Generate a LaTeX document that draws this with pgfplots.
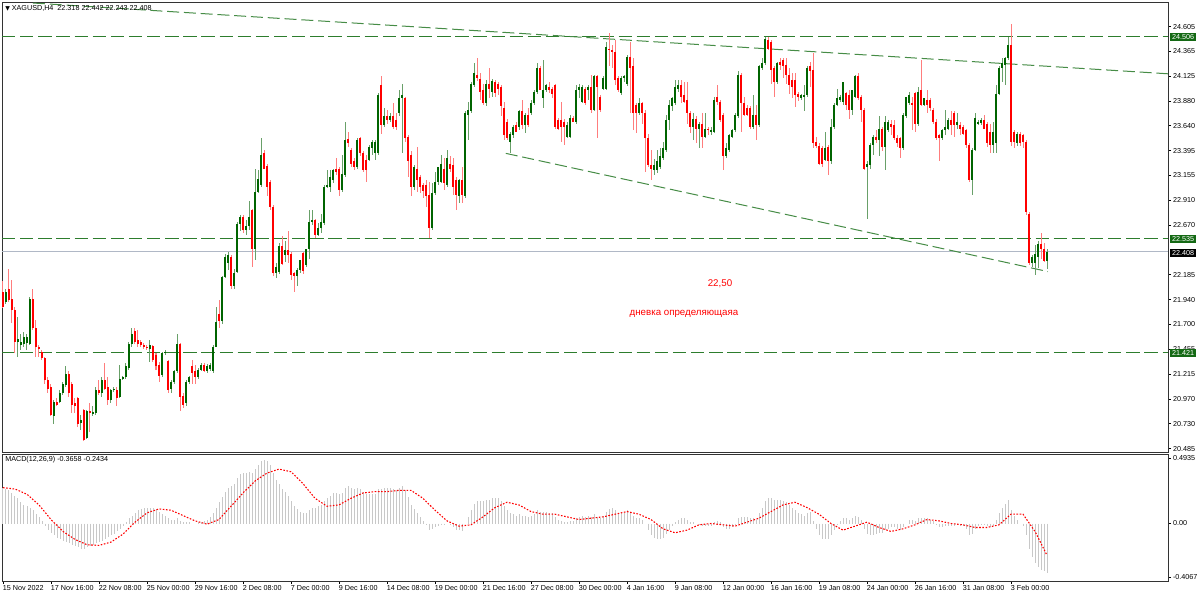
\documentclass[border=0pt]{standalone}
\usepackage{pgfplots}
\pgfplotsset{compat=1.18}
\usepackage{pgfplotstable}
\usetikzlibrary{calc}
\usepackage{fontspec}
\setmainfont{Liberation Sans}
\newfontfamily\symfont{DejaVu Sans}

\definecolor{bullbody}{RGB}{0,100,0}
\definecolor{bullwick}{RGB}{105,160,105}
\definecolor{bearbody}{RGB}{255,0,0}
\definecolor{bearwick}{RGB}{255,125,125}
\definecolor{lvl}{RGB}{45,125,45}
\definecolor{trend}{RGB}{70,140,70}
\definecolor{boxgreen}{RGB}{20,105,20}
\definecolor{bidline}{RGB}{176,184,198}
\definecolor{histgray}{RGB}{200,200,200}

\newcommand\mtfont{\fontsize{5.4}{6.4}\selectfont}
\pgfdeclarelayer{bg}
\pgfsetlayers{bg,main}

% XAGUSD H4 candles: bar index, open, high, low, close
\pgfplotstableread{
i o h l c
0 22.02 22.12 21.86 21.87
1 21.92 22.04 21.90 22.02
2 22.04 22.24 21.92 21.94
3 21.95 22.13 21.71 21.84
4 21.84 21.87 21.42 21.53
5 21.53 21.77 21.38 21.56
6 21.50 21.61 21.45 21.53
7 21.51 21.62 21.48 21.58
8 21.52 21.61 21.45 21.58
9 21.51 21.97 21.50 21.95
10 21.95 22.04 21.64 21.66
11 21.66 21.74 21.38 21.48
12 21.48 21.50 21.38 21.46
13 21.43 21.45 21.35 21.37
14 21.37 21.38 21.12 21.16
15 21.16 21.19 21.03 21.07
16 21.09 21.12 20.80 20.81
17 20.80 20.96 20.73 20.94
18 20.94 20.98 20.90 20.91
19 20.94 21.06 20.93 21.03
20 21.03 21.14 21.01 21.12
21 21.11 21.29 21.09 21.21
22 21.21 21.24 20.99 21.03
23 21.12 21.14 20.83 20.91
24 20.93 20.98 20.83 20.90
25 20.98 20.99 20.70 20.73
26 20.74 20.81 20.67 20.77
27 20.86 20.87 20.56 20.57
28 20.59 20.86 20.58 20.85
29 20.85 20.93 20.65 20.83
30 20.82 20.90 20.80 20.84
31 20.83 21.09 20.81 21.06
32 21.06 21.16 21.01 21.03
33 21.03 21.19 20.99 21.16
34 21.16 21.32 21.06 21.07
35 21.09 21.19 20.91 20.96
36 20.96 21.07 20.93 21.06
37 21.06 21.09 21.04 21.07
38 21.06 21.09 20.90 20.98
39 20.99 21.30 20.98 21.17
40 21.17 21.20 21.16 21.19
41 21.19 21.32 21.17 21.29
42 21.27 21.53 21.25 21.51
43 21.51 21.66 21.48 21.61
44 21.63 21.66 21.51 21.53
45 21.55 21.64 21.48 21.51
46 21.53 21.55 21.48 21.50
47 21.50 21.52 21.46 21.48
48 21.48 21.50 21.45 21.47
49 21.46 21.55 21.33 21.50
50 21.49 21.50 21.33 21.35
51 21.40 21.42 21.25 21.29
52 21.30 21.33 21.14 21.20
53 21.20 21.43 21.19 21.42
54 21.42 21.45 21.40 21.43
55 21.34 21.35 21.03 21.06
56 21.07 21.16 21.03 21.14
57 21.14 21.25 21.12 21.24
58 21.24 21.61 21.22 21.51
59 21.51 21.52 20.85 20.99
60 21.00 21.03 20.88 20.91
61 20.93 21.16 20.90 21.14
62 21.14 21.20 21.12 21.19
63 21.29 21.35 21.12 21.22
64 21.24 21.30 21.12 21.19
65 21.19 21.27 21.17 21.25
66 21.25 21.32 21.24 21.30
67 21.30 21.32 21.23 21.24
68 21.24 21.31 21.22 21.29
69 21.26 21.32 21.24 21.30
70 21.24 21.50 21.22 21.48
71 21.48 21.87 21.48 21.72
72 21.80 21.94 21.66 21.73
73 21.73 22.17 21.70 22.16
74 22.16 22.39 22.15 22.36
75 22.30 22.41 22.23 22.38
76 22.36 22.38 22.04 22.07
77 22.07 22.24 22.04 22.20
78 22.21 22.70 22.20 22.68
79 22.68 22.77 22.61 22.75
80 22.75 22.77 22.59 22.62
81 22.62 22.72 22.57 22.66
82 22.66 22.90 22.62 22.75
83 22.82 22.83 22.26 22.44
84 22.44 23.22 22.33 22.99
85 22.99 23.21 22.98 23.12
86 23.06 23.52 23.04 23.35
87 23.37 23.40 23.22 23.22
88 23.25 23.27 22.95 23.04
89 23.09 23.11 22.82 22.85
90 22.85 22.86 22.17 22.20
91 22.20 22.30 22.15 22.26
92 22.21 22.49 22.19 22.46
93 22.46 22.56 22.28 22.29
94 22.38 22.51 22.31 22.43
95 22.43 22.61 22.30 22.38
96 22.39 22.41 22.13 22.18
97 22.20 22.21 22.02 22.17
98 22.17 22.25 22.07 22.23
99 22.23 22.33 22.20 22.33
100 22.40 22.41 22.19 22.22
101 22.28 22.44 22.26 22.44
102 22.44 22.82 22.34 22.70
103 22.70 22.82 22.67 22.72
104 22.72 22.73 22.54 22.57
105 22.57 22.69 22.56 22.64
106 22.64 22.78 22.59 22.70
107 22.69 23.06 22.67 23.04
108 23.04 23.21 23.03 23.06
109 23.04 23.21 22.99 23.14
110 23.11 23.22 23.08 23.21
111 23.22 23.32 23.16 23.19
112 23.22 23.24 22.95 23.01
113 23.01 23.35 22.99 23.17
114 23.16 23.68 23.14 23.50
115 23.51 23.58 23.43 23.47
116 23.40 23.42 23.24 23.27
117 23.29 23.32 23.21 23.24
118 23.24 23.52 23.22 23.50
119 23.52 23.53 23.34 23.37
120 23.37 23.39 23.19 23.21
121 23.30 23.35 23.09 23.21
122 23.30 23.45 23.29 23.43
123 23.42 23.50 23.35 23.48
124 23.37 23.50 23.30 23.48
125 23.37 23.96 23.35 23.94
126 24.04 24.12 23.56 23.65
127 23.65 23.81 23.63 23.73
128 23.73 23.79 23.66 23.69
129 23.69 23.76 23.68 23.73
130 23.73 23.86 23.61 23.63
131 23.69 23.76 23.60 23.63
132 23.76 23.99 23.73 23.91
133 23.91 24.05 23.37 23.94
134 23.91 23.92 23.48 23.52
135 23.53 23.55 23.14 23.29
136 23.35 23.39 22.95 23.04
137 23.04 23.26 23.01 23.24
138 23.22 23.43 22.99 23.11
139 23.14 23.16 22.98 23.04
140 23.06 23.08 22.93 23.00
141 23.06 23.11 22.85 22.95
142 22.96 23.09 22.54 22.64
143 22.64 23.08 22.62 22.98
144 22.98 23.19 22.96 23.09
145 23.09 23.24 23.06 23.24
146 23.09 23.35 23.08 23.27
147 23.22 23.32 23.01 23.08
148 23.06 23.40 23.04 23.32
149 23.27 23.34 23.19 23.22
150 23.26 23.32 22.96 23.04
151 23.11 23.14 22.82 22.96
152 22.95 23.12 22.88 23.11
153 23.11 23.24 22.88 22.96
154 22.95 23.78 22.93 23.76
155 23.74 23.87 23.50 23.79
156 23.78 24.07 23.76 24.05
157 24.04 24.25 24.02 24.15
158 24.13 24.30 24.08 24.10
159 24.10 24.15 23.89 23.97
160 23.99 24.05 23.84 23.86
161 23.86 24.09 23.83 24.05
162 24.05 24.20 23.91 24.00
163 23.97 24.10 23.92 24.08
164 24.07 24.09 23.92 23.96
165 24.05 24.07 23.94 24.00
166 24.02 24.04 23.73 23.83
167 23.81 23.87 23.50 23.55
168 23.68 23.70 23.50 23.52
169 23.48 23.58 23.37 23.56
170 23.55 23.65 23.52 23.63
171 23.65 23.68 23.58 23.58
172 23.63 23.79 23.60 23.78
173 23.78 23.89 23.61 23.65
174 23.65 23.76 23.57 23.74
175 23.74 23.81 23.63 23.65
176 23.76 23.89 23.74 23.86
177 23.86 23.99 23.84 23.97
178 23.97 24.25 23.95 24.20
179 24.20 24.22 23.99 23.99
180 23.91 24.28 23.81 23.99
181 23.99 24.05 23.97 24.04
182 24.02 24.07 23.96 23.99
183 24.00 24.02 23.91 23.95
184 24.04 24.05 23.61 23.63
185 23.69 23.71 23.60 23.61
186 23.69 23.87 23.48 23.63
187 23.68 23.70 23.45 23.63
188 23.53 23.68 23.52 23.65
189 23.53 23.74 23.52 23.71
190 23.71 23.73 23.68 23.68
191 23.68 24.04 23.66 23.99
192 23.99 24.05 23.91 24.02
193 23.87 24.04 23.86 24.02
194 24.00 24.02 23.84 23.86
195 23.99 24.04 23.89 24.02
196 24.02 24.13 23.76 23.79
197 23.79 24.13 23.78 24.12
198 24.12 24.13 23.52 24.02
199 23.92 23.94 23.77 23.79
200 24.00 24.12 23.99 24.10
201 24.00 24.46 23.99 24.41
202 24.39 24.54 24.22 24.38
203 24.38 24.43 24.20 24.36
204 24.36 24.48 24.04 24.09
205 24.10 24.12 23.97 23.99
206 23.96 24.12 23.94 24.10
207 24.10 24.13 24.07 24.12
208 24.05 24.33 24.03 24.31
209 24.31 24.46 23.76 24.20
210 24.22 24.30 23.60 23.76
211 23.84 23.86 23.57 23.76
212 23.76 23.91 23.74 23.86
213 23.86 23.87 23.66 23.76
214 23.76 23.79 23.19 23.52
215 23.52 23.56 23.24 23.26
216 23.26 23.40 23.11 23.22
217 23.21 23.31 23.16 23.26
218 23.21 23.40 23.18 23.29
219 23.24 23.42 23.22 23.34
220 23.32 23.48 23.30 23.42
221 23.40 23.74 23.38 23.69
222 23.69 23.89 23.60 23.84
223 23.83 23.92 23.78 23.91
224 23.86 24.09 23.84 24.02
225 24.00 24.09 23.97 24.04
226 24.04 24.09 23.86 23.92
227 23.94 24.07 23.86 23.87
228 23.89 24.07 23.66 23.76
229 23.76 23.78 23.57 23.63
230 23.63 23.76 23.50 23.70
231 23.70 23.73 23.47 23.61
232 23.61 23.68 23.42 23.66
233 23.66 23.76 23.42 23.53
234 23.53 23.76 23.52 23.61
235 23.61 23.63 23.55 23.60
236 23.58 23.63 23.55 23.60
237 23.58 23.92 23.57 23.89
238 23.92 24.04 23.84 23.87
239 23.87 23.89 23.68 23.69
240 23.74 23.76 23.21 23.34
241 23.34 23.47 23.32 23.42
242 23.40 23.56 23.38 23.55
243 23.53 23.61 23.52 23.60
244 23.60 23.76 23.58 23.74
245 23.73 24.17 23.71 24.13
246 24.13 24.15 23.58 23.86
247 23.86 23.92 23.73 23.74
248 23.81 23.84 23.73 23.74
249 23.81 23.83 23.61 23.63
250 23.63 23.94 23.61 23.74
251 23.74 23.84 23.50 23.65
252 23.65 24.23 23.63 24.22
253 24.20 24.30 24.18 24.25
254 24.25 24.51 24.23 24.49
255 24.48 24.51 24.38 24.39
256 24.46 24.48 24.05 24.18
257 24.20 24.22 23.92 24.07
258 24.07 24.26 24.05 24.25
259 24.26 24.30 24.18 24.23
260 24.28 24.30 24.10 24.22
261 24.23 24.30 24.05 24.13
262 24.13 24.20 23.95 24.04
263 24.09 24.15 23.91 24.02
264 24.09 24.15 23.82 23.94
265 23.95 23.97 23.88 23.92
266 23.91 23.95 23.89 23.94
267 23.92 24.04 23.78 23.94
268 23.94 24.22 23.92 24.20
269 24.22 24.26 24.02 24.17
270 24.18 24.35 23.42 23.47
271 23.48 23.53 23.42 23.44
272 23.44 23.47 23.26 23.27
273 23.42 23.44 23.24 23.27
274 23.30 23.58 23.29 23.42
275 23.43 23.45 23.16 23.29
276 23.29 23.70 23.27 23.63
277 23.63 23.86 23.61 23.84
278 23.84 24.00 23.83 23.91
279 23.89 23.94 23.87 23.92
280 23.87 24.07 23.84 24.07
281 23.96 23.97 23.79 23.84
282 23.94 23.99 23.70 23.79
283 23.79 23.99 23.74 23.99
284 23.92 24.13 23.91 24.12
285 24.12 24.15 23.89 23.91
286 23.92 23.94 23.68 23.79
287 23.79 23.81 23.21 23.22
288 23.24 23.29 22.73 23.27
289 23.26 23.47 23.22 23.45
290 23.45 23.55 23.35 23.53
291 23.53 23.60 23.47 23.50
292 23.50 23.73 23.34 23.61
293 23.61 23.63 23.39 23.43
294 23.43 23.73 23.21 23.68
295 23.60 23.69 23.58 23.68
296 23.66 23.69 23.55 23.63
297 23.65 23.69 23.50 23.52
298 23.52 23.55 23.43 23.47
299 23.52 23.53 23.32 23.42
300 23.42 23.76 23.40 23.74
301 23.73 23.92 23.71 23.92
302 23.86 23.97 23.84 23.94
303 23.86 23.92 23.60 23.84
304 23.96 23.97 23.58 23.66
305 23.66 24.02 23.64 23.97
306 23.99 24.28 23.83 23.84
307 23.84 23.89 23.83 23.91
308 23.89 23.99 23.76 23.84
309 23.89 23.91 23.78 23.81
310 23.79 23.81 23.66 23.68
311 23.68 23.70 23.50 23.52
312 23.55 23.56 23.29 23.52
313 23.52 23.61 23.50 23.60
314 23.60 23.79 23.55 23.63
315 23.61 23.71 23.60 23.69
316 23.69 23.78 23.55 23.65
317 23.76 23.78 23.53 23.65
318 23.65 23.76 23.61 23.68
319 23.65 23.68 23.55 23.61
320 23.63 23.65 23.55 23.56
321 23.60 23.61 23.42 23.45
322 23.45 23.47 23.09 23.11
323 23.11 23.42 22.96 23.40
324 23.40 23.76 23.39 23.71
325 23.66 23.69 23.65 23.68
326 23.67 23.71 23.65 23.69
327 23.69 23.74 23.61 23.61
328 23.66 23.68 23.43 23.47
329 23.58 23.66 23.37 23.45
330 23.45 23.68 23.37 23.58
331 23.47 24.04 23.37 23.95
332 23.95 24.22 23.94 24.20
333 24.20 24.30 24.07 24.25
334 24.23 24.31 24.04 24.30
335 24.30 24.51 24.28 24.43
336 24.43 24.63 23.44 23.48
337 23.58 23.60 23.42 23.48
338 23.47 23.58 23.44 23.56
339 23.56 23.58 23.44 23.47
340 23.55 23.56 23.42 23.48
341 23.48 23.50 22.77 22.80
342 22.78 22.80 22.28 22.30
343 22.30 22.38 22.26 22.36
344 22.30 22.47 22.18 22.39
345 22.36 22.51 22.25 22.48
346 22.48 22.59 22.34 22.44
347 22.44 22.49 22.31 22.32
348 22.32 22.44 22.24 22.41
}\candles

\pgfplotsset{
  wick/.style={forget plot, draw=none, mark=none,
    error bars/y dir=both, error bars/y explicit, error bars/error mark=none,
    error bars/error bar style={line width=0.75pt, draw=#1}},
  body/.style={forget plot, draw=none, mark=none,
    error bars/y dir=both, error bars/y explicit, error bars/error mark=none,
    error bars/error bar style={line width=1.7pt, draw=#1}},
}

\begin{document}
\begin{tikzpicture}[x=0.75pt,y=0.75pt]

% ---------- price panel ----------
\begin{axis}[
  name=main,
  scale only axis, width=874.5pt, height=337.5pt,
  xmin=-0.333, xmax=388.333, ymin=20.453, ymax=24.847,
  axis line style={black!80, line width=0.6pt},
  xtick=\empty,
  ytick={20.485,20.730,20.970,21.215,21.455,21.700,21.940,22.185,22.670,22.910,23.155,23.395,23.640,23.880,24.125,24.365,24.605},
  yticklabels={20.485,20.730,20.970,21.215,21.455,21.700,21.940,22.185,22.670,22.910,23.155,23.395,23.640,23.880,24.125,24.365,24.605},
  ytick pos=right, yticklabel pos=right,
  tick align=outside, major tick length=2.25pt,
  tick style={black, line width=0.5pt},
  yticklabel style={font=\mtfont, inner sep=0.5pt, xshift=0.8pt},
]
% levels
\addplot[lvl, line width=0.8pt, dash pattern=on 10pt off 3.6pt] coordinates {(-0.333,24.506) (388.333,24.506)};
\addplot[lvl, line width=0.8pt, dash pattern=on 10pt off 3.6pt] coordinates {(-0.333,22.535) (388.333,22.535)};
\addplot[lvl, line width=0.8pt, dash pattern=on 10pt off 3.6pt] coordinates {(-0.333,21.421) (388.333,21.421)};
\addplot[bidline, line width=1pt] coordinates {(-0.333,22.408) (388.333,22.408)};
% trend lines
\addplot[trend, line width=0.75pt, dash pattern=on 9pt off 3.6pt] coordinates {(10,24.837) (388.333,24.146)};
\addplot[trend, line width=0.75pt, dash pattern=on 9pt off 3.6pt] coordinates {(167.6,23.369) (348.3,22.215)};

% wicks
\addplot[wick=bullwick, restrict expr to domain={\thisrow{c}-\thisrow{o}}{0:100}]
  table[x=i, y expr={(\thisrow{h}+\thisrow{l})/2}, y error expr={(\thisrow{h}-\thisrow{l})/2}] {\candles};
\addplot[wick=bearwick, restrict expr to domain={\thisrow{c}-\thisrow{o}}{-100:-0.0001}]
  table[x=i, y expr={(\thisrow{h}+\thisrow{l})/2}, y error expr={(\thisrow{h}-\thisrow{l})/2}] {\candles};
% bodies
\addplot[body=bullbody, restrict expr to domain={\thisrow{c}-\thisrow{o}}{0:100}]
  table[x=i, y expr={(\thisrow{o}+\thisrow{c})/2}, y error expr={max(abs(\thisrow{c}-\thisrow{o})/2,0.005)}] {\candles};
\addplot[body=bearbody, restrict expr to domain={\thisrow{c}-\thisrow{o}}{-100:-0.0001}]
  table[x=i, y expr={(\thisrow{o}+\thisrow{c})/2}, y error expr={max(abs(\thisrow{c}-\thisrow{o})/2,0.005)}] {\candles};

\coordinate (mSW) at (rel axis cs:0,0);
\end{axis}

% ---------- MACD panel: its zero line at bar 0 lies 71.5 px below the price panel ----------
\begin{axis}[
  at={($(mSW)+(0.75pt,-53.625pt)$)}, anchor=origin,
  scale only axis, width=874.5pt, height=95.25pt,
  xmin=-0.333, xmax=388.333, ymin=-0.4333, ymax=0.5237,
  axis line style={black!80, line width=0.6pt},
  xtick={0,16,...,336},
  xticklabels={15 Nov 2022,17 Nov 16:00,22 Nov 08:00,25 Nov 00:00,29 Nov 16:00,2 Dec 08:00,7 Dec 00:00,9 Dec 16:00,14 Dec 08:00,19 Dec 00:00,21 Dec 16:00,27 Dec 08:00,30 Dec 00:00,4 Jan 16:00,9 Jan 08:00,12 Jan 00:00,16 Jan 16:00,19 Jan 08:00,24 Jan 00:00,26 Jan 16:00,31 Jan 08:00,3 Feb 00:00},
  xtick pos=bottom,
  xticklabel style={font=\mtfont, anchor=north west, inner sep=0.5pt, xshift=-0.8pt, yshift=-0.5pt},
  ytick={-0.4067,0,0.4935},
  yticklabels={-0.4067,0.00,0.4935},
  ytick pos=right, yticklabel pos=right,
  tick align=outside, major tick length=2.25pt,
  tick style={black, line width=0.5pt},
  yticklabel style={font=\mtfont, inner sep=0.5pt, xshift=0.8pt},
]
% MACD main as histogram
\addplot[ycomb, histgray, line width=0.75pt, mark=none] coordinates {
(0,0.27) (1,0.26) (2,0.25) (3,0.23) (4,0.21) (5,0.19) (6,0.16) (7,0.14) (8,0.13) (9,0.12)
(10,0.10) (11,0.07) (12,0.05) (13,0.02) (14,-0.02) (15,-0.05) (16,-0.07) (17,-0.09) (18,-0.11) (19,-0.12)
(20,-0.13) (21,-0.14) (22,-0.15) (23,-0.16) (24,-0.17) (25,-0.18) (26,-0.19) (27,-0.19) (28,-0.18) (29,-0.17)
(30,-0.16) (31,-0.15) (32,-0.14) (33,-0.13) (34,-0.12) (35,-0.10) (36,-0.09) (37,-0.08) (38,-0.06) (39,-0.04)
(40,-0.02) (41,0.01) (42,0.04) (43,0.06) (44,0.08) (45,0.10) (46,0.11) (47,0.12) (48,0.12) (49,0.12)
(50,0.12) (51,0.11) (52,0.09) (53,0.07) (54,0.06) (55,0.04) (56,0.03) (57,0.03) (58,0.04) (59,0.02)
(60,0.01) (61,0.01) (62,0.01) (63,0.00) (64,0.00) (65,0.01) (66,0.01) (67,0.02) (68,0.03) (69,0.05)
(70,0.08) (71,0.12) (72,0.16) (73,0.20) (74,0.24) (75,0.27) (76,0.28) (77,0.30) (78,0.34) (79,0.37)
(80,0.38) (81,0.38) (82,0.39) (83,0.38) (84,0.41) (85,0.44) (86,0.47) (87,0.48) (88,0.47) (89,0.44)
(90,0.38) (91,0.33) (92,0.30) (93,0.26) (94,0.24) (95,0.21) (96,0.17) (97,0.13) (98,0.11) (99,0.09)
(100,0.08) (101,0.08) (102,0.10) (103,0.12) (104,0.12) (105,0.13) (106,0.14) (107,0.17) (108,0.19) (109,0.21)
(110,0.23) (111,0.23) (112,0.22) (113,0.23) (114,0.27) (115,0.28) (116,0.27) (117,0.26) (118,0.27) (119,0.26)
(120,0.24) (121,0.22) (122,0.22) (123,0.22) (124,0.22) (125,0.26) (126,0.26) (127,0.27) (128,0.27) (129,0.27)
(130,0.26) (131,0.25) (132,0.27) (133,0.28) (134,0.25) (135,0.20) (136,0.14) (137,0.11) (138,0.08) (139,0.05)
(140,0.02) (141,-0.01) (142,-0.05) (143,-0.04) (144,-0.03) (145,-0.02) (146,-0.01) (147,-0.01) (148,0.00) (149,-0.01)
(150,-0.03) (151,-0.05) (152,-0.05) (153,-0.06) (154,0.00) (155,0.05) (156,0.10) (157,0.15) (158,0.17) (159,0.17)
(160,0.17) (161,0.18) (162,0.18) (163,0.19) (164,0.19) (165,0.19) (166,0.17) (167,0.13) (168,0.10) (169,0.08)
(170,0.07) (171,0.06) (172,0.07) (173,0.06) (174,0.06) (175,0.05) (176,0.06) (177,0.07) (178,0.10) (179,0.09)
(180,0.09) (181,0.09) (182,0.08) (183,0.08) (184,0.05) (185,0.03) (186,0.02) (187,0.01) (188,0.01) (189,0.02)
(190,0.02) (191,0.04) (192,0.05) (193,0.06) (194,0.05) (195,0.06) (196,0.05) (197,0.07) (198,0.05) (199,0.04)
(200,0.06) (201,0.09) (202,0.11) (203,0.12) (204,0.10) (205,0.08) (206,0.08) (207,0.08) (208,0.10) (209,0.09)
(210,0.06) (211,0.04) (212,0.04) (213,0.03) (214,0.00) (215,-0.05) (216,-0.09) (217,-0.11) (218,-0.12) (219,-0.12)
(220,-0.11) (221,-0.08) (222,-0.05) (223,-0.02) (224,0.01) (225,0.03) (226,0.04) (227,0.04) (228,0.03) (229,0.01)
(230,0.01) (231,0.00) (232,-0.01) (233,-0.02) (234,-0.02) (235,-0.02) (236,-0.02) (237,0.01) (238,0.02) (239,0.01)
(240,-0.03) (241,-0.04) (242,-0.04) (243,-0.03) (244,-0.01) (245,0.04) (246,0.05) (247,0.05) (248,0.05) (249,0.04)
(250,0.04) (251,0.03) (252,0.08) (253,0.12) (254,0.17) (255,0.19) (256,0.19) (257,0.18) (258,0.18) (259,0.18)
(260,0.17) (261,0.16) (262,0.14) (263,0.12) (264,0.10) (265,0.08) (266,0.07) (267,0.06) (268,0.08) (269,0.09)
(270,0.02) (271,-0.04) (272,-0.09) (273,-0.12) (274,-0.12) (275,-0.12) (276,-0.09) (277,-0.05) (278,-0.01) (279,0.02)
(280,0.04) (281,0.04) (282,0.03) (283,0.04) (284,0.06) (285,0.05) (286,0.03) (287,-0.04) (288,-0.08) (289,-0.09)
(290,-0.09) (291,-0.08) (292,-0.07) (293,-0.07) (294,-0.05) (295,-0.04) (296,-0.03) (297,-0.03) (298,-0.04) (299,-0.05)
(300,-0.03) (301,0.00) (302,0.03) (303,0.03) (304,0.02) (305,0.04) (306,0.04) (307,0.04) (308,0.04) (309,0.03)
(310,0.02) (311,-0.01) (312,-0.03) (313,-0.03) (314,-0.02) (315,-0.02) (316,-0.02) (317,-0.02) (318,-0.01) (319,-0.02)
(320,-0.02) (321,-0.04) (322,-0.09) (323,-0.08) (324,-0.04) (325,-0.02) (326,-0.01) (327,-0.01) (328,-0.02) (329,-0.03)
(330,-0.02) (331,0.03) (332,0.08) (333,0.12) (334,0.15) (335,0.18) (336,0.10) (337,0.06) (338,0.03) (339,0.00)
(340,-0.02) (341,-0.09) (342,-0.19) (343,-0.25) (344,-0.30) (345,-0.33) (346,-0.35) (347,-0.36) (348,-0.37)
};
% signal line
\addplot[red, line width=0.8pt, dash pattern=on 1.2pt off 1.2pt] coordinates {
(0,0.27) (4,0.26) (8,0.22) (12,0.14) (16,0.03) (20,-0.06) (24,-0.12) (28,-0.16) (32,-0.165) (36,-0.14)
(40,-0.08) (44,0.01) (48,0.08) (52,0.11) (56,0.10) (60,0.06) (64,0.02) (68,-0.005) (72,0.03) (76,0.13)
(80,0.23) (84,0.32) (88,0.38) (92,0.41) (96,0.39) (100,0.30) (104,0.19) (108,0.13) (112,0.14) (116,0.19)
(120,0.23) (124,0.24) (128,0.24) (132,0.25) (136,0.25) (140,0.19) (144,0.10) (148,0.02) (152,-0.02) (156,-0.01)
(160,0.05) (164,0.12) (168,0.16) (172,0.14) (176,0.09) (180,0.07) (184,0.07) (188,0.05) (192,0.03) (196,0.04)
(200,0.05) (204,0.07) (208,0.09) (212,0.07) (216,0.03) (220,-0.04) (224,-0.07) (228,-0.05) (232,-0.01) (236,0.00)
(240,-0.01) (244,-0.02) (248,0.01) (252,0.04) (256,0.09) (260,0.14) (264,0.16) (268,0.12) (272,0.07) (276,0.00)
(280,-0.05) (284,-0.02) (288,0.01) (292,-0.03) (296,-0.06) (300,-0.04) (304,-0.01) (308,0.03) (312,0.02) (316,0.00)
(320,-0.01) (324,-0.03) (328,-0.03) (332,-0.01) (336,0.07) (340,0.07) (344,-0.06) (348,-0.24)
};
\end{axis}

% ---------- page-fixed items: (px, 597-py) from the page's lower left corner ----------
\begin{scope}[shift={($(mSW)+(-2,-145)$)}]
\begin{pgfonlayer}{bg}
\fill[white] (0,0) rectangle (1200,597);
\end{pgfonlayer}
\node[fill=boxgreen, text=white, font=\mtfont, inner xsep=1.3pt, inner ysep=1pt, anchor=west] at (1170,560) {24.506};
\node[fill=boxgreen, text=white, font=\mtfont, inner xsep=1.3pt, inner ysep=1pt, anchor=west] at (1170,358) {22.535};
\node[fill=black, text=white, font=\mtfont, inner xsep=1.3pt, inner ysep=1pt, anchor=west] at (1170,344) {22.408};
\node[fill=boxgreen, text=white, font=\mtfont, inner xsep=1.3pt, inner ysep=1pt, anchor=west] at (1170,244) {21.421};
\node[anchor=west, font=\mtfont, inner sep=0pt] at (5,589) {{\symfont\fontsize{4.5}{5}\selectfont ▼} XAGUSD,H4\ \ 22.318 22.442 22.243 22.408};
\node[text=red, font=\fontsize{7.3}{8.5}\selectfont, inner sep=0pt] at (720,313) {22,50};
\node[text=red, font=\fontsize{7.3}{8.5}\selectfont, inner sep=0pt] at (684,283) {дневка определяющаяа};
\node[anchor=west, font=\mtfont, inner sep=0pt] at (5,137.5) {MACD(12,26,9) -0.3658 -0.2434};
\end{scope}

\pgfresetboundingbox
\path[use as bounding box] ($(mSW)+(-2,-145)$) rectangle ($(mSW)+(1198,452)$);
\end{tikzpicture}
\end{document}
